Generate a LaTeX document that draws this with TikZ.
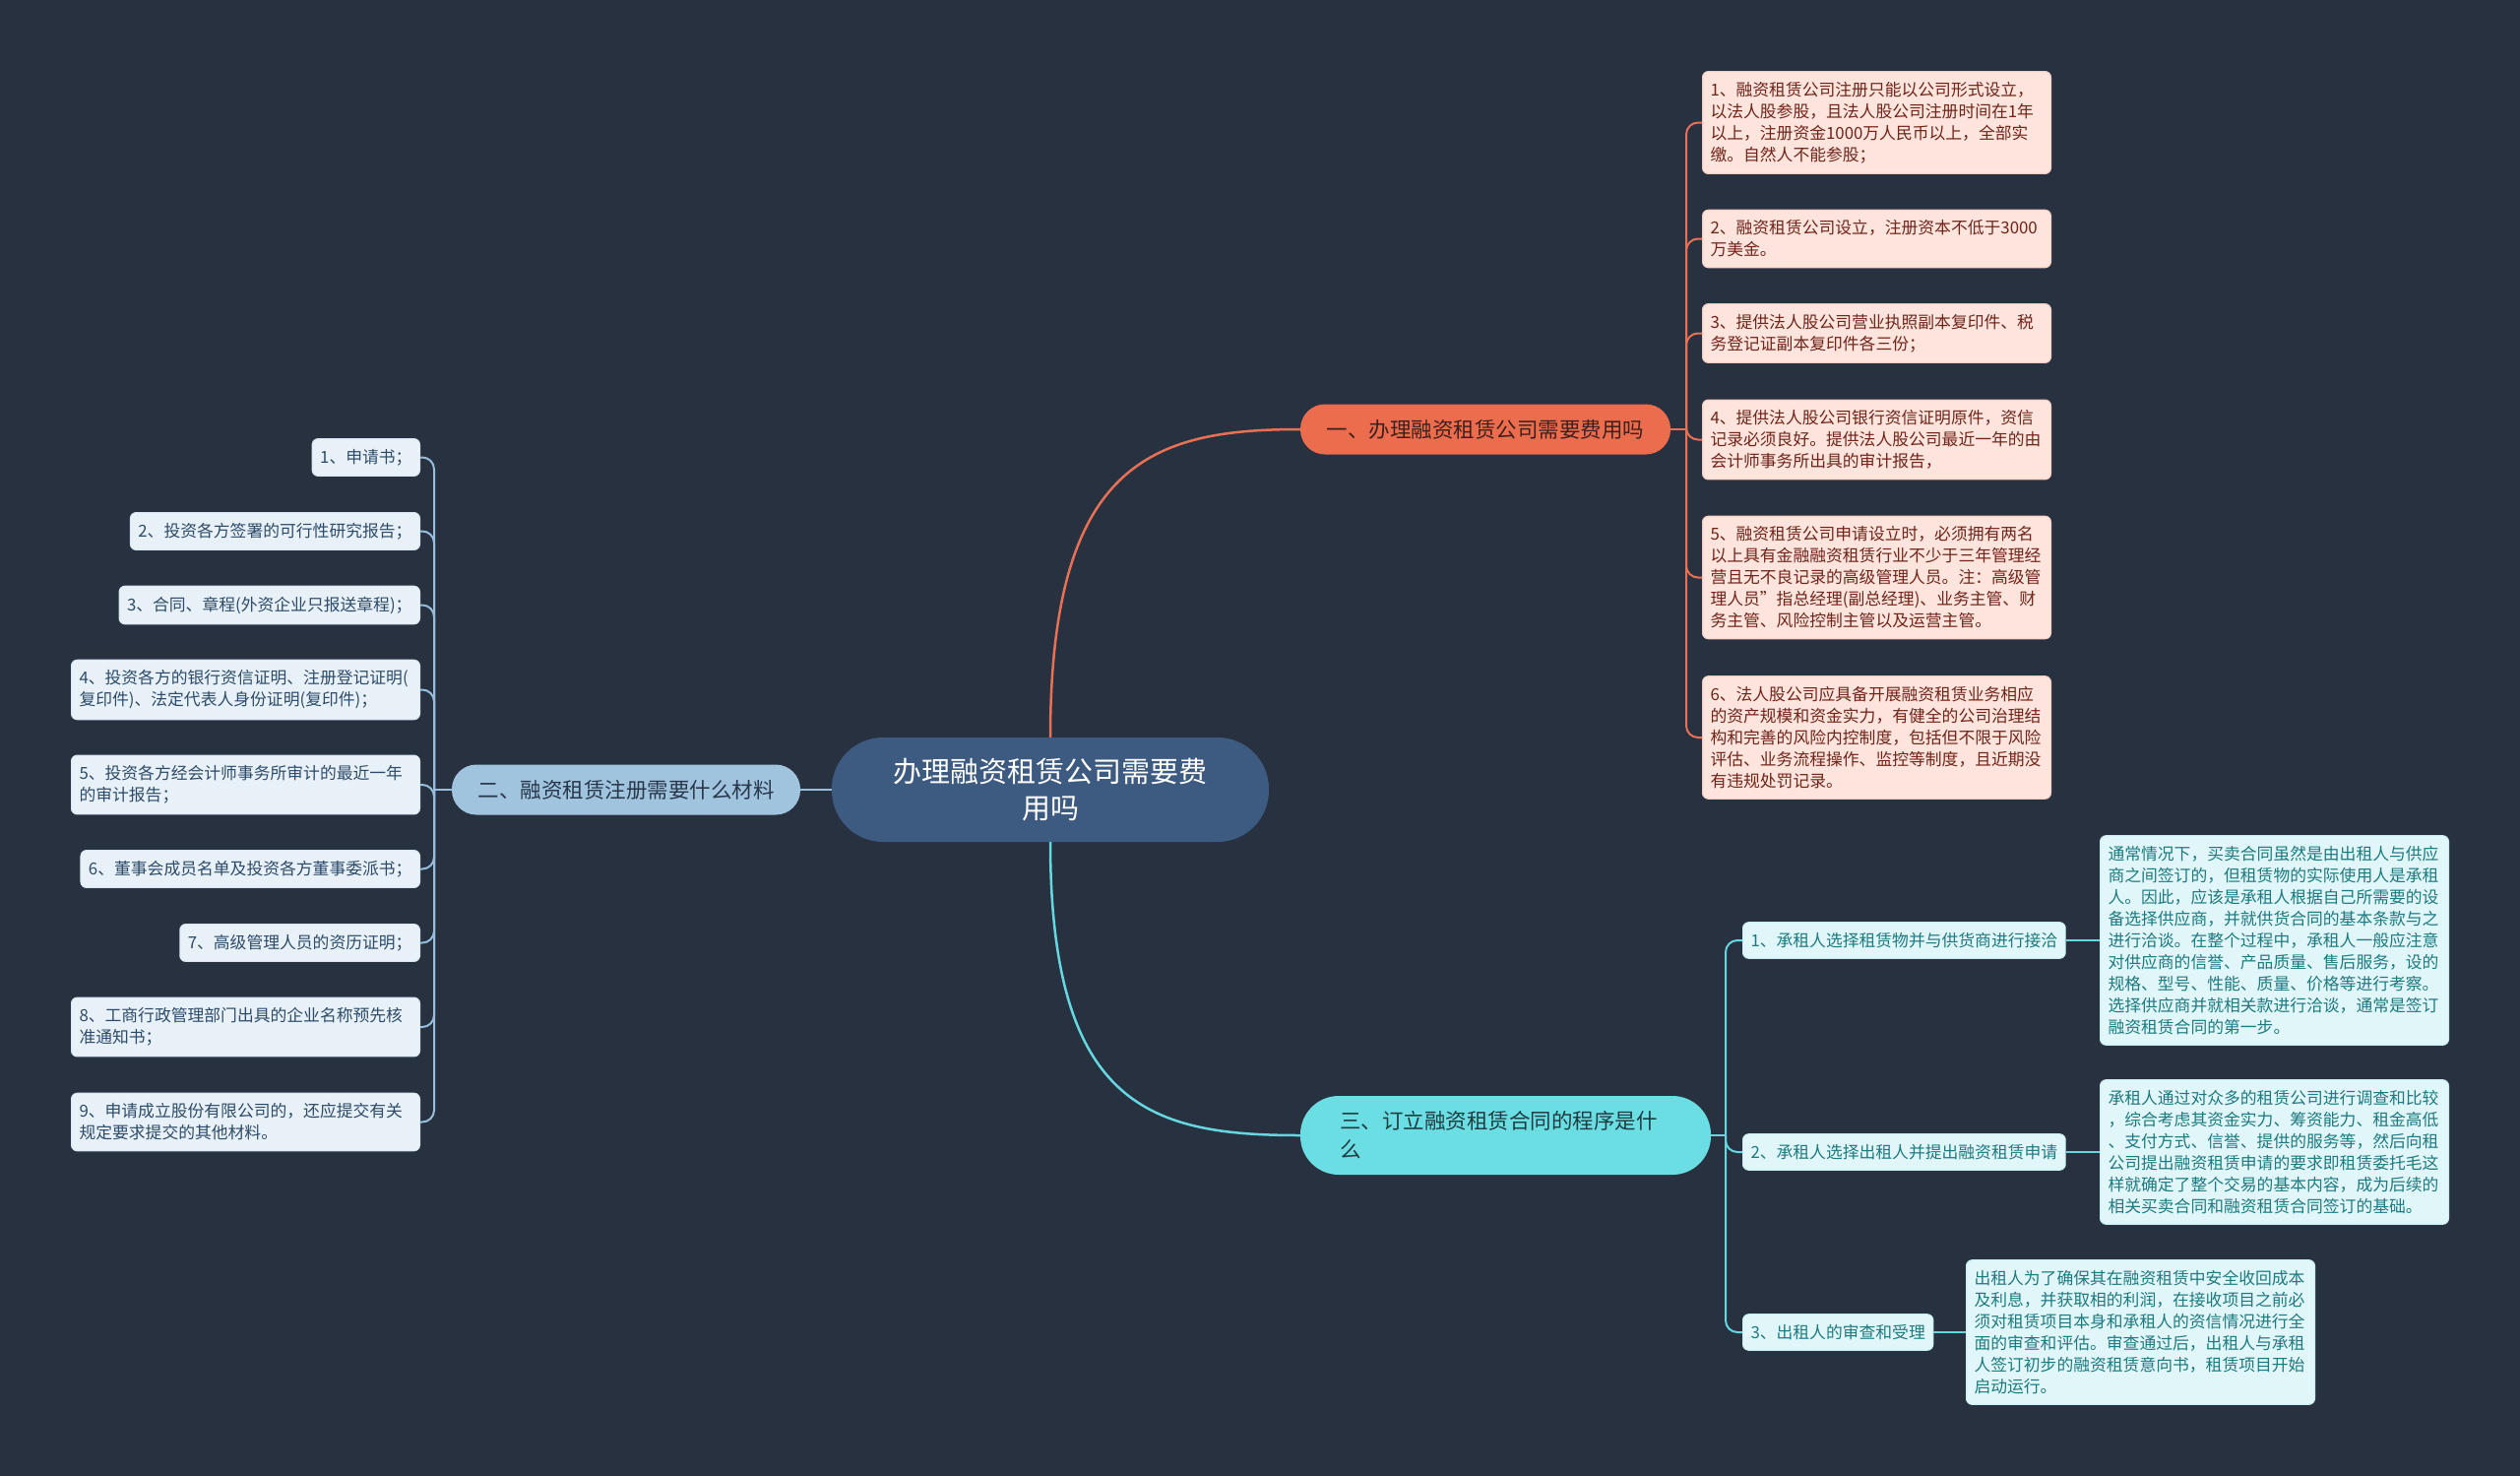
\documentclass[tikz,border=0pt]{standalone}
\usepackage{fontspec}
\setmainfont{Noto Sans CJK SC}
\usetikzlibrary{positioning}

\definecolor{bgcol}{RGB}{40,49,64}
\definecolor{rootfill}{RGB}{61,90,128}
\definecolor{orfill}{RGB}{236,108,78}
\definecolor{orline}{RGB}{232,112,84}
\definecolor{ortext}{RGB}{62,32,28}
\definecolor{orleaf}{RGB}{253,228,220}
\definecolor{orleaftext}{RGB}{112,36,26}
\definecolor{blfill}{RGB}{160,196,222}
\definecolor{blline}{RGB}{150,190,220}
\definecolor{bltext}{RGB}{40,55,75}
\definecolor{blleaf}{RGB}{232,241,248}
\definecolor{blleaftext}{RGB}{45,75,105}
\definecolor{cyfill}{RGB}{107,222,228}
\definecolor{cyline}{RGB}{100,215,225}
\definecolor{cytext}{RGB}{30,60,65}
\definecolor{cyleaf}{RGB}{225,246,248}
\definecolor{cyleaftext}{RGB}{28,122,128}

\tikzset{
  rootbox/.style={fill=rootfill, text=white, rounded corners=52pt, minimum width=444pt,
    minimum height=106pt, align=center, inner sep=0pt, font=\fontsize{29}{37}\selectfont},
  topicbox/.style={rounded corners=25pt, minimum height=51pt, inner sep=0pt, font=\fontsize{21.5}{29}\selectfont},
  leafbox/.style={rounded corners=6pt, line width=1pt, align=left, inner xsep=8pt, inner ysep=10.5pt,
    font=\fontsize{16.8}{22}\selectfont},
  wideleaf/.style={leafbox, text width=338pt},
  orleafbox/.style={wideleaf, fill=orleaf, draw=orleaf!80!orfill, text=orleaftext},
  blleafbox/.style={leafbox, fill=blleaf, draw=blleaf!80!blfill, text=blleaftext},
  cyleafbox/.style={leafbox, fill=cyleaf, draw=cyleaf!80!cyfill, text=cyleaftext},
  mainlink/.style={line width=2.5pt},
  sublink/.style={line width=2pt, rounded corners=12pt},
}

\begin{document}
\begin{tikzpicture}[x=1pt, y=-1pt]
    % Background
    \fill[bgcol] (0,0) rectangle (2560,1499);
    \useasboundingbox (0,0) rectangle (2560,1499);

    % Root and topics
    \node[rootbox] (root) at (1067,802) {办理融资租赁公司需要费\\用吗};
    \node[topicbox, fill=orfill, text=ortext, minimum width=376pt] (top1) at (1509,436) {一、办理融资租赁公司需要费用吗};
    \node[topicbox, fill=blfill, text=bltext, minimum width=354pt] (top2) at (636,802) {二、融资租赁注册需要什么材料};
    \node[topicbox, fill=cyfill, text=cytext, rounded corners=39pt, minimum height=80pt, text width=337pt,
      inner xsep=40pt, align=left] (top3) at (1529.5,1153) {三、订立融资租赁合同的程序是什\\么};

    % Topic one leaves
    \node[orleafbox, anchor=west] (or1) at (1729,124.5) {1、融资租赁公司注册只能以公司形式设立，\\以法人股参股，且法人股公司注册时间在1年\\以上，注册资金1000万人民币以上，全部实\\缴。自然人不能参股；};
    \node[orleafbox, anchor=west] (or2) at (1729,242.5) {2、融资租赁公司设立，注册资本不低于3000\\万美金。};
    \node[orleafbox, anchor=west] (or3) at (1729,338.5) {3、提供法人股公司营业执照副本复印件、税\\务登记证副本复印件各三份；};
    \node[orleafbox, anchor=west] (or4) at (1729,446.5) {4、提供法人股公司银行资信证明原件，资信\\记录必须良好。提供法人股公司最近一年的由\\会计师事务所出具的审计报告，};
    \node[orleafbox, anchor=west] (or5) at (1729,586.5) {5、融资租赁公司申请设立时，必须拥有两名\\以上具有金融融资租赁行业不少于三年管理经\\营且无不良记录的高级管理人员。注：高级管\\理人员”指总经理(副总经理)、业务主管、财\\务主管、风险控制主管以及运营主管。};
    \node[orleafbox, anchor=west] (or6) at (1729,749) {6、法人股公司应具备开展融资租赁业务相应\\的资产规模和资金实力，有健全的公司治理结\\构和完善的风险内控制度，包括但不限于风险\\评估、业务流程操作、监控等制度，且近期没\\有违规处罚记录。};

    % Topic two leaves
    \node[blleafbox, anchor=east] (bl1) at (427,464.5) {1、申请书；};
    \node[blleafbox, anchor=east] (bl2) at (427,539.5) {2、投资各方签署的可行性研究报告；};
    \node[blleafbox, anchor=east] (bl3) at (427,614.5) {3、合同、章程(外资企业只报送章程)；};
    \node[blleafbox, wideleaf, anchor=east] (bl4) at (427,700.5) {4、投资各方的银行资信证明、注册登记证明(\\复印件)、法定代表人身份证明(复印件)；};
    \node[blleafbox, wideleaf, anchor=east] (bl5) at (427,797) {5、投资各方经会计师事务所审计的最近一年\\的审计报告；};
    \node[blleafbox, anchor=east] (bl6) at (427,882.5) {6、董事会成员名单及投资各方董事委派书；};
    \node[blleafbox, anchor=east] (bl7) at (427,957.5) {7、高级管理人员的资历证明；};
    \node[blleafbox, wideleaf, anchor=east] (bl8) at (427,1043) {8、工商行政管理部门出具的企业名称预先核\\准通知书；};
    \node[blleafbox, wideleaf, anchor=east] (bl9) at (427,1139.5) {9、申请成立股份有限公司的，还应提交有关\\规定要求提交的其他材料。};

    % Topic three steps and details
    \node[cyleafbox, anchor=west] (cy1) at (1770,955) {1、承租人选择租赁物并与供货商进行接洽};
    \node[cyleafbox, anchor=west] (cy2) at (1770,1170) {2、承租人选择出租人并提出融资租赁申请};
    \node[cyleafbox, anchor=west] (cy3) at (1770,1353) {3、出租人的审查和受理};
    \node[cyleafbox, wideleaf, anchor=west] (det1) at (2133,955) {通常情况下，买卖合同虽然是由出租人与供应\\商之间签订的，但租赁物的实际使用人是承租\\人。因此，应该是承租人根据自己所需要的设\\备选择供应商，并就供货合同的基本条款与之\\进行洽谈。在整个过程中，承租人一般应注意\\对供应商的信誉、产品质量、售后服务，设的\\规格、型号、性能、质量、价格等进行考察。\\选择供应商并就相关款进行洽谈，通常是签订\\融资租赁合同的第一步。};
    \node[cyleafbox, wideleaf, anchor=west] (det2) at (2133,1170) {承租人通过对众多的租赁公司进行调查和比较\\，综合考虑其资金实力、筹资能力、租金高低\\、支付方式、信誉、提供的服务等，然后向租\\公司提出融资租赁申请的要求即租赁委托毛这\\样就确定了整个交易的基本内容，成为后续的\\相关买卖合同和融资租赁合同签订的基础。};
    \node[cyleafbox, wideleaf, anchor=west] (det3) at (1997,1353) {出租人为了确保其在融资租赁中安全收回成本\\及利息，并获取相的利润，在接收项目之前必\\须对租赁项目本身和承租人的资信情况进行全\\面的审查和评估。审查通过后，出租人与承租\\人签订初步的融资租赁意向书，租赁项目开始\\启动运行。};

    % Links from root
    \draw[mainlink, orline] (root.north) .. controls (1067,470) and (1170,436) .. (top1.west);
    \draw[mainlink, blline] (root.west) -- (top2.east);
    \draw[mainlink, cyline] (root.south) .. controls (1067,1125) and (1170,1153) .. (top3.west);

    % Trunks
    \coordinate (trunk1) at (1713,436);
    \coordinate (trunk2) at (441,802);
    \coordinate (trunk3) at (1753,1153);
    \draw[sublink, orline] (top1.east) -- (trunk1);
    \draw[sublink, blline] (top2.west) -- (trunk2);
    \draw[sublink, cyline] (top3.east) -- (trunk3);

    % Topic one links
    \draw[sublink, orline] (trunk1) |- (or1.west);
    \draw[sublink, orline] (trunk1) |- (or2.west);
    \draw[sublink, orline] (trunk1) |- (or3.west);
    \draw[sublink, orline] (trunk1) |- (or4.west);
    \draw[sublink, orline] (trunk1) |- (or5.west);
    \draw[sublink, orline] (trunk1) |- (or6.west);

    % Topic two links
    \draw[sublink, blline] (trunk2) |- (bl1.east);
    \draw[sublink, blline] (trunk2) |- (bl2.east);
    \draw[sublink, blline] (trunk2) |- (bl3.east);
    \draw[sublink, blline] (trunk2) |- (bl4.east);
    \draw[sublink, blline] (trunk2) |- (bl5.east);
    \draw[sublink, blline] (trunk2) |- (bl6.east);
    \draw[sublink, blline] (trunk2) |- (bl7.east);
    \draw[sublink, blline] (trunk2) |- (bl8.east);
    \draw[sublink, blline] (trunk2) |- (bl9.east);

    % Topic three links
    \draw[sublink, cyline] (trunk3) |- (cy1.west);
    \draw[sublink, cyline] (trunk3) |- (cy2.west);
    \draw[sublink, cyline] (trunk3) |- (cy3.west);
    \draw[sublink, cyline] (cy1.east) -- (det1.west);
    \draw[sublink, cyline] (cy2.east) -- (det2.west);
    \draw[sublink, cyline] (cy3.east) -- (det3.west);
\end{tikzpicture}
\end{document}
